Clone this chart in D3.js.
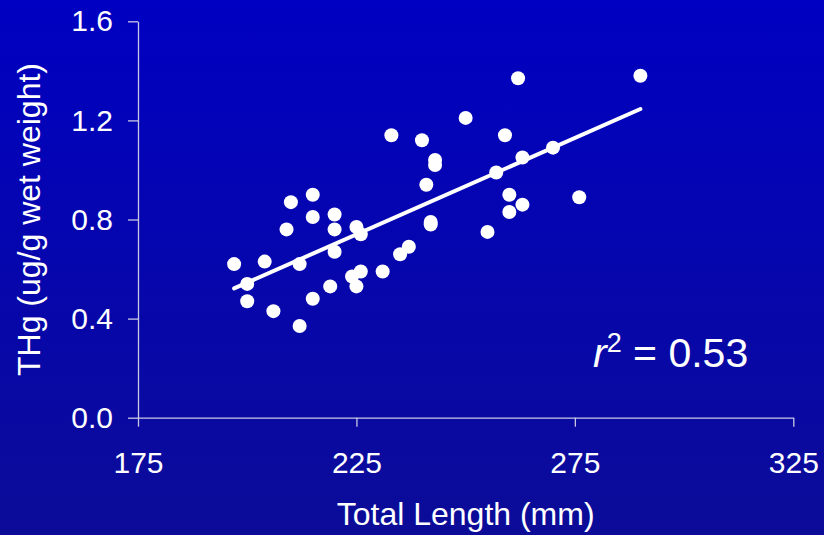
<!DOCTYPE html>
<html>
<head>
<meta charset="utf-8">
<script src="https://cdnjs.cloudflare.com/ajax/libs/d3/7.8.5/d3.min.js"></script>
<style>
  html, body { margin: 0; padding: 0; background: #0000b0; }
  svg { display: block; font-family: "Liberation Sans", Arial, sans-serif; }
</style>
</head>
<body>
<script>
// total length (mm) and THg (ug/g wet weight) for each fish
const lengths = [197, 200, 200, 204, 206, 209, 210, 212, 212, 215, 215, 215,
                 219, 220, 220, 220, 224, 225, 225, 226, 226, 231, 233, 235,
                 237, 240, 241, 242, 242, 243, 243, 250, 255, 257, 259, 260,
                 260, 262, 263, 263, 270, 276, 290];
const thg = [0.62, 0.54, 0.47, 0.63, 0.43, 0.76, 0.87, 0.62, 0.37, 0.90, 0.81, 0.48,
             0.53, 0.82, 0.76, 0.67, 0.57, 0.77, 0.53, 0.74, 0.59, 0.59, 1.14, 0.66,
             0.69, 1.12, 0.94, 0.79, 0.78, 1.04, 1.02, 1.21, 0.75, 0.99, 1.14, 0.90,
             0.83, 1.37, 1.05, 0.86, 1.09, 0.89, 1.38];

// fitted line, end points
const fitX = [197, 290];
const fitY = [0.522, 1.246];

const xTicks = [175, 225, 275, 325];
const yTicks = [0.0, 0.4, 0.8, 1.2, 1.6];

const W = 824, H = 535;
const margin = {top: 21.3, right: 30.7, bottom: 117.3, left: 138};
const width = W - margin.left - margin.right,
      height = H - margin.top - margin.bottom;

const svg = d3.select("body").append("svg")
    .attr("width", W)
    .attr("height", H);

const grad = svg.append("defs").append("linearGradient")
    .attr("id", "bg")
    .attr("x1", 0).attr("y1", 0).attr("x2", 0).attr("y2", 1);
grad.append("stop").attr("offset", "0%").attr("stop-color", "#0000c2");
grad.append("stop").attr("offset", "100%").attr("stop-color", "#0c0c98");

svg.append("rect")
    .attr("width", W).attr("height", H)
    .attr("fill", "url(#bg)");

const g = svg.append("g")
    .attr("transform", "translate(" + margin.left + "," + margin.top + ")");

const x = d3.scaleLinear().domain([175, 325]).range([0, width]);
const y = d3.scaleLinear().domain([0, 1.6]).range([height, 0]);

const axisColor = "#c8c8e6";

// x axis
const xa = g.append("g")
    .attr("transform", "translate(0," + height + ")")
    .call(d3.axisBottom(x).tickValues(xTicks).tickSize(9).tickSizeOuter(0).tickPadding(25));

// y axis
const ya = g.append("g")
    .call(d3.axisLeft(y).tickValues(yTicks).tickFormat(d3.format(".1f"))
      .tickSize(10).tickSizeOuter(0).tickPadding(15));

[xa, ya].forEach(function(a) {
  a.selectAll("path, line").attr("stroke", axisColor).attr("stroke-width", 1.3);
  a.selectAll("text")
    .attr("fill", "#ffffff")
    .style("font-size", "30px")
    .style("font-family", "'Liberation Sans', Arial, sans-serif");
});

// fit line
g.append("line")
    .attr("x1", x(fitX[0])).attr("y1", y(fitY[0]))
    .attr("x2", x(fitX[1])).attr("y2", y(fitY[1]))
    .attr("stroke", "#ffffff")
    .attr("stroke-width", 4)
    .attr("stroke-linecap", "round");

// points
g.selectAll("circle")
    .data(lengths)
    .enter().append("circle")
    .attr("cx", function(d) { return x(d); })
    .attr("cy", function(d, i) { return y(thg[i]); })
    .attr("r", 7)
    .attr("fill", "#ffffff");

// axis titles
svg.append("text")
    .attr("x", margin.left + width / 2)
    .attr("y", 525)
    .attr("text-anchor", "middle")
    .attr("fill", "#ffffff")
    .style("font-size", "32px")
    .text("Total Length (mm)");

svg.append("text")
    .attr("transform", "translate(40," + (margin.top + height / 2) + ") rotate(-90)")
    .attr("text-anchor", "middle")
    .attr("fill", "#ffffff")
    .style("font-size", "32px")
    .text("THg (ug/g wet weight)");

// r squared label
const r2 = svg.append("text")
    .attr("x", 593)
    .attr("y", 367)
    .attr("fill", "#ffffff")
    .style("font-size", "41px");
r2.append("tspan").style("font-style", "italic").text("r");
r2.append("tspan").attr("dy", -15).style("font-size", "27px").text("2");
r2.append("tspan").attr("dy", 15).text(" = 0.53");
</script>
</body>
</html>
